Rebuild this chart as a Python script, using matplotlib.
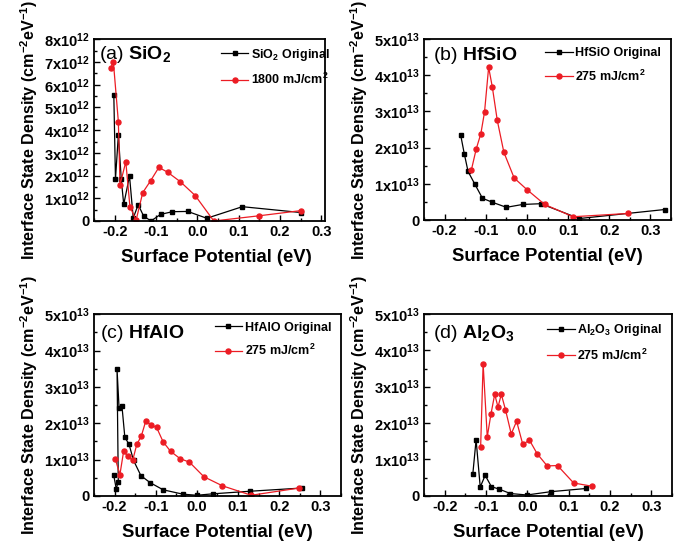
"""Interface state density vs surface potential, four dielectrics"""

import matplotlib
matplotlib.use("Agg")
import matplotlib.pyplot as plt
from matplotlib.ticker import MultipleLocator, FixedLocator

plt.rcParams["font.family"] = ["Liberation Sans", "DejaVu Sans"]
plt.rcParams["font.weight"] = "bold"
plt.rcParams["mathtext.fontset"] = "custom"
plt.rcParams["mathtext.rm"] = "Liberation Sans:bold"
plt.rcParams["mathtext.bf"] = "Liberation Sans:bold"
plt.rcParams["mathtext.it"] = "Liberation Sans:bold"
plt.rcParams["mathtext.default"] = "rm"

# (a) SiO2, density in 1e12 cm^-2 eV^-1
sio2_orig_x = [-0.202, -0.198, -0.191, -0.184, -0.178, -0.164, -0.155, -0.143, -0.130,
               -0.112, -0.089, -0.060, -0.023, 0.023, 0.109, 0.252]
sio2_orig_y = [5.55, 1.84, 3.79, 1.84, 0.73, 1.98, 0.13, 0.72, 0.22,
               0.0, 0.29, 0.41, 0.42, 0.12, 0.63, 0.37]
sio2_laser_x = [-0.210, -0.203, -0.191, -0.187, -0.173, -0.163, -0.148, -0.132, -0.113,
                -0.093, -0.072, -0.041, -0.005, 0.040, 0.150, 0.252]
sio2_laser_y = [6.73, 6.99, 4.37, 1.59, 2.61, 0.63, 0.04, 1.25, 1.77,
                2.36, 2.15, 1.73, 1.12, 0.0, 0.23, 0.46]

# (b) HfSiO, density in 1e13
hfsio_orig_x = [-0.161, -0.152, -0.143, -0.127, -0.108, -0.084, -0.050, -0.010, 0.034, 0.127, 0.335]
hfsio_orig_y = [2.35, 1.82, 1.34, 1.00, 0.60, 0.49, 0.35, 0.43, 0.45, 0.04, 0.29]
hfsio_laser_x = [-0.135, -0.123, -0.112, -0.103, -0.093, -0.084, -0.072, -0.056, -0.031,
                 0.0, 0.043, 0.112, 0.245]
hfsio_laser_y = [1.38, 1.97, 2.38, 2.98, 4.22, 3.67, 2.75, 1.87, 1.16,
                 0.84, 0.43, 0.09, 0.18]

# (c) HfAlO, density in 1e13
hfalo_orig_x = [-0.202, -0.196, -0.191, -0.194, -0.189, -0.182, -0.175, -0.165, -0.154,
                -0.136, -0.114, -0.082, -0.034, 0.0, 0.039, 0.128, 0.256]
hfalo_orig_y = [0.57, 0.20, 0.39, 3.49, 2.41, 2.47, 1.61, 1.43, 0.98,
                0.56, 0.37, 0.17, 0.05, 0.02, 0.06, 0.13, 0.22]
hfalo_laser_x = [-0.198, -0.187, -0.178, -0.168, -0.156, -0.146, -0.135, -0.124, -0.111,
                 -0.098, -0.082, -0.064, -0.041, -0.018, 0.017, 0.062, 0.132, 0.249]
hfalo_laser_y = [1.01, 0.59, 1.23, 1.09, 0.98, 1.42, 1.65, 2.07, 1.95,
                 1.89, 1.49, 1.23, 1.03, 0.93, 0.53, 0.28, 0.02, 0.22]

# (d) Al2O3, density in 1e13
al2o3_orig_x = [-0.132, -0.124, -0.114, -0.102, -0.087, -0.068, -0.041, -0.001, 0.056, 0.143]
al2o3_orig_y = [0.59, 1.54, 0.24, 0.56, 0.25, 0.18, 0.06, 0.02, 0.11, 0.20]
al2o3_laser_x = [-0.113, -0.107, -0.097, -0.088, -0.079, -0.071, -0.063, -0.053, -0.039,
                 -0.026, -0.011, 0.005, 0.024, 0.048, 0.073, 0.112, 0.157]
al2o3_laser_y = [1.35, 3.63, 1.62, 2.25, 2.79, 2.44, 2.79, 2.37, 1.70,
                 2.05, 1.41, 1.53, 1.15, 0.82, 0.83, 0.35, 0.26]

x_ticks = [-0.2, -0.1, 0.0, 0.1, 0.2, 0.3]
x_tick_labels = ["-0.2", "-0.1", "0.0", "0.1", "0.2", "0.3"]

RED = "#ec1c24"

panels = [
    dict(rect=[0.1374, 0.5982, 0.3377, 0.3303], xlim=(-0.25, 0.309),
         title=r"(a) $\mathbf{SiO_2}$", title_pos=(0.02, 0.89),
         orig=(sio2_orig_x, sio2_orig_y), laser=(sio2_laser_x, sio2_laser_y),
         orig_label=r"SiO$_\mathbf{2}$ Original", laser_label=r"1800 mJ/cm$^\mathbf{2}$",
         scale=1e12, exp=12, ymax=8, leg_anchor=(1.02, 0.96), xlabel_x=0.528),
    dict(rect=[0.6199, 0.6000, 0.3611, 0.3291], xlim=(-0.25, 0.35),
         title=r"(b) $\mathbf{HfSiO}$", title_pos=(0.035, 0.884),
         orig=(hfsio_orig_x, hfsio_orig_y), laser=(hfsio_laser_x, hfsio_laser_y),
         orig_label="HfSiO Original", laser_label=r"275 mJ/cm$^\mathbf{2}$",
         scale=1e13, exp=13, ymax=5, leg_anchor=(0.96, 0.955), xlabel_x=0.5),
    dict(rect=[0.1374, 0.0982, 0.3611, 0.3303], xlim=(-0.25, 0.35),
         title=r"(c) $\mathbf{HfAlO}$", title_pos=(0.024, 0.871),
         orig=(hfalo_orig_x, hfalo_orig_y), laser=(hfalo_laser_x, hfalo_laser_y),
         orig_label="HfAlO Original", laser_label=r"275 mJ/cm$^\mathbf{2}$",
         scale=1e13, exp=13, ymax=5, leg_anchor=(0.96, 0.96), xlabel_x=0.5),
    dict(rect=[0.6199, 0.0987, 0.3626, 0.3304], xlim=(-0.25, 0.35),
         title=r"(d) $\mathbf{Al_2O_3}$", title_pos=(0.035, 0.866),
         orig=(al2o3_orig_x, al2o3_orig_y), laser=(al2o3_laser_x, al2o3_laser_y),
         orig_label=r"Al$_\mathbf{2}$O$_\mathbf{3}$ Original", laser_label=r"275 mJ/cm$^\mathbf{2}$",
         scale=1e13, exp=13, ymax=5, leg_anchor=(0.96, 0.955), xlabel_x=0.5),
]

fig = plt.figure(figsize=(6.84, 5.5), dpi=100)

for p in panels:
    ax = fig.add_axes(p["rect"])
    s = p["scale"]
    ox, oy = p["orig"]
    lx, ly = p["laser"]
    ax.plot(ox, [v * s for v in oy], color="black", lw=0.9, marker="s", ms=3.2,
            label=p["orig_label"])
    ax.plot(lx, [v * s for v in ly], color=RED, lw=0.9, marker="o", ms=3.6,
            label=p["laser_label"])

    ax.set_xlim(*p["xlim"])
    ax.set_ylim(0, p["ymax"] * s)
    ax.xaxis.set_major_locator(FixedLocator(x_ticks))
    ax.set_xticklabels(x_tick_labels, fontweight="bold")
    ax.xaxis.set_minor_locator(MultipleLocator(0.05))
    yt = [i * s for i in range(p["ymax"] + 1)]
    ax.set_yticks(yt)
    ax.set_yticklabels(["0"] + [f"{i}x10$^{{{p['exp']}}}$" for i in range(1, p["ymax"] + 1)],
                       fontweight="bold")
    ax.yaxis.set_minor_locator(MultipleLocator(0.5 * s))

    ax.tick_params(which="both", direction="in", top=False, right=False, width=1.0)
    ax.tick_params(which="major", length=4, labelsize=10.5, pad=3)
    ax.tick_params(which="minor", length=2.2)
    for sp in ax.spines.values():
        sp.set_linewidth(1.3)

    ax.set_xlabel("Surface Potential (eV)", fontsize=13.3, fontweight="bold")
    ax.xaxis.set_label_coords(p["xlabel_x"], -0.155)
    ax.set_ylabel(r"Interface State Density (cm$^\mathbf{-2}$eV$^\mathbf{-1}$)",
                  fontsize=11.6, fontweight="bold", labelpad=3)

    ax.text(p["title_pos"][0], p["title_pos"][1], p["title"], transform=ax.transAxes,
            fontsize=14, fontweight="normal", ha="left", va="baseline")

    leg = ax.legend(loc="upper right", bbox_to_anchor=p["leg_anchor"], frameon=False,
                    fontsize=9, handlelength=2.2, handletextpad=0.2, labelspacing=0.75,
                    borderpad=0, borderaxespad=0)
    for t in leg.get_texts():
        t.set_fontweight("bold")

fig.savefig("out.png", dpi=100)
